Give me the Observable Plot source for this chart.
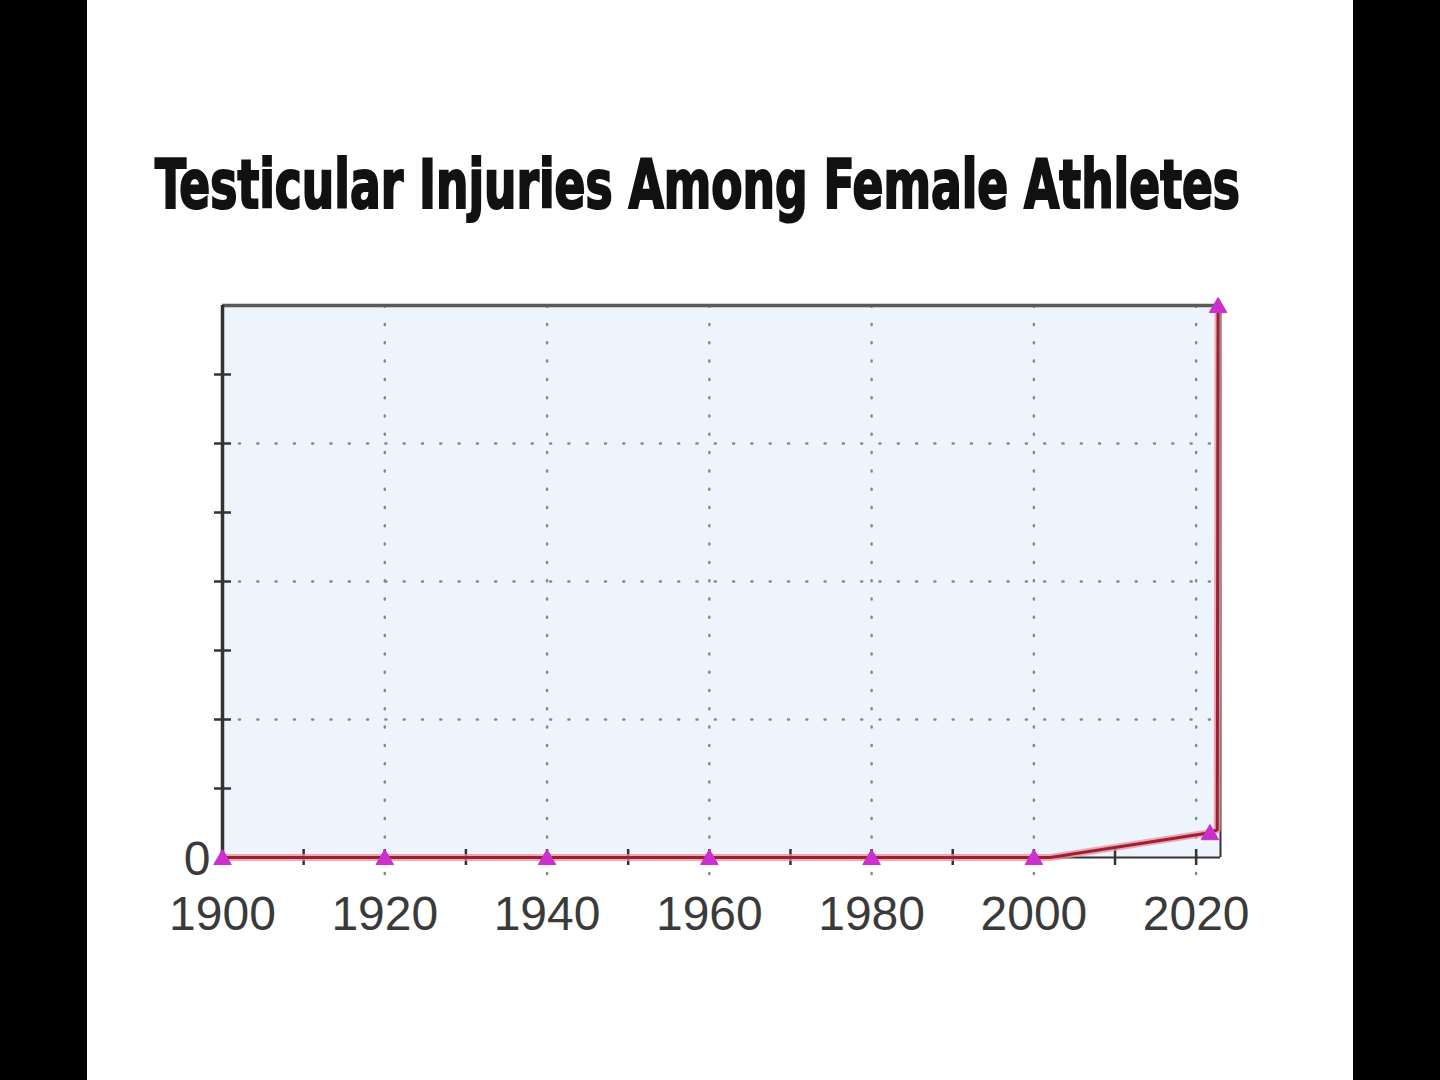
<!DOCTYPE html>
<html>
<head>
<meta charset="utf-8">
<script src="https://cdn.jsdelivr.net/npm/d3@7"></script>
<script src="https://cdn.jsdelivr.net/npm/@observablehq/plot@0.6"></script>
<style>
  html, body { margin: 0; padding: 0; background: #000; width: 1440px; height: 1080px; overflow: hidden; }
  #panel { position: absolute; left: 87px; top: 0; width: 1266px; height: 1080px; background: #fff; }
  #title { position: absolute; left: 0; top: 0; }
  #chart { position: absolute; left: 0; top: 280px; }
</style>
</head>
<body>
<div id="panel">
  <svg id="title" width="1266" height="260"></svg>
  <div id="chart"></div>
</div>
<script>
// ---- data ----
const titleText = "Testicular Injuries Among Female Athletes";
const lineYears  = [1900, 1920, 1940, 1960, 1980, 2000, 2002, 2021.7, 2022.6, 2022.7];
const lineValues = [0,    0,    0,    0,    0,    0,    0,    0.18,   0.2,    4];
const markerYears  = [1900, 1920, 1940, 1960, 1980, 2000, 2021.7, 2022.7];
const markerValues = [0,    0,    0,    0,    0,    0,    0.18,   4];
const xLabelTicks = [1900, 1920, 1940, 1960, 1980, 2000, 2020];
const xMinorTicks = [1910, 1920, 1930, 1940, 1950, 1960, 1970, 1980, 1990, 2000, 2010, 2020];
const xGrid = [1920, 1940, 1960, 1980, 2000, 2020];
const yGrid = [1, 2, 3];
const yMinorTicks = [0.5, 1, 1.5, 2, 2.5, 3, 3.5];
const yLabelTicks = [0];
const xDomain = [1900, 2023];
const yDomain = [0, 4];

// ---- title ----
const tsvg = d3.select("#title");
tsvg.append("text")
  .attr("transform", `translate(${155 - 87},208) scale(1,1.42)`)
  .attr("x", 0).attr("y", 0)
  .attr("textLength", 1085)
  .attr("lengthAdjust", "spacingAndGlyphs")
  .style("font-family", "'Liberation Sans Narrow', 'DejaVu Sans Condensed', 'Liberation Sans', sans-serif")
  .style("font-weight", "bold")
  .style("font-size", "47px")
  .attr("fill", "#111")
  .attr("stroke", "#111")
  .attr("stroke-width", 1.5)
  .text(titleText);

// ---- chart ----
const lineData = lineYears.map((y, i) => ({year: y, value: lineValues[i]}));
const markerData = markerYears.map((y, i) => ({year: y, value: markerValues[i]}));

const chart = Plot.plot({
  width: 1266,
  height: 700,
  marginLeft: 135,
  marginRight: 133,
  marginTop: 25,
  marginBottom: 123,
  style: {background: "transparent", overflow: "visible"},
  x: {domain: xDomain, axis: null},
  y: {domain: yDomain, axis: null},
  marks: [
    Plot.frame({fill: "#eef4fc", stroke: null}),
    // dotted grid
    Plot.ruleX(xGrid, {x: d => d, y1: yDomain[0], y2: yDomain[1], stroke: "#888", strokeWidth: 2.5, strokeDasharray: "1,17.3", strokeLinecap: "round", insetTop: 17}),
    Plot.ruleY(yGrid, {y: d => d, x1: xDomain[0], x2: xDomain[1], stroke: "#888", strokeWidth: 2.5, strokeDasharray: "1,17.3", strokeLinecap: "round", insetLeft: 17}),
    // frame edges
    Plot.ruleY([yDomain[1]], {x1: xDomain[0], x2: xDomain[1], stroke: "#5a5a5a", strokeWidth: 3.5}),
    Plot.ruleX([xDomain[1]], {y1: yDomain[0], y2: yDomain[1], stroke: "#333", strokeWidth: 2}),
    Plot.ruleY([yDomain[0]], {x1: xDomain[0], x2: xDomain[1], stroke: "#333", strokeWidth: 2}),
    Plot.ruleX([xDomain[0]], {y1: yDomain[0], y2: yDomain[1], stroke: "#333", strokeWidth: 3.5}),
    // crossing ticks
    Plot.ruleX(xMinorTicks, {x: d => d, y1: 0, y2: 0, insetTop: -8, insetBottom: -8, stroke: "#333", strokeWidth: 2.5}),
    Plot.ruleY(yMinorTicks, {y: d => d, x1: xDomain[0], x2: xDomain[0], insetLeft: -8, insetRight: -9, stroke: "#333", strokeWidth: 2.5}),
    // line with glow
    Plot.line(lineData, {x: "year", y: "value", stroke: "#f28c9c", strokeWidth: 7, strokeOpacity: 0.75}),
    Plot.line(lineData, {x: "year", y: "value", stroke: "#962233", strokeWidth: 3}),
    // markers
    Plot.dot(markerData, {x: "year", y: "value", symbol: "triangle", r: 6.5, fill: "#c930cc", stroke: "#c930cc", strokeWidth: 1, dy: 2}),
    // axis labels
    Plot.axisX(xLabelTicks, {tickSize: 0, tickPadding: 38, fontSize: 48, label: null, tickFormat: d => String(d), fill: "#3a3a3a", fontFamily: "'Liberation Sans', Arial, sans-serif"}),
    Plot.axisY(yLabelTicks, {tickSize: 0, tickPadding: 12, fontSize: 48, label: null, tickFormat: d => String(d), fill: "#3a3a3a", fontFamily: "'Liberation Sans', Arial, sans-serif", dy: 2})
  ]
});
document.getElementById("chart").appendChild(chart);
</script>
</body>
</html>
